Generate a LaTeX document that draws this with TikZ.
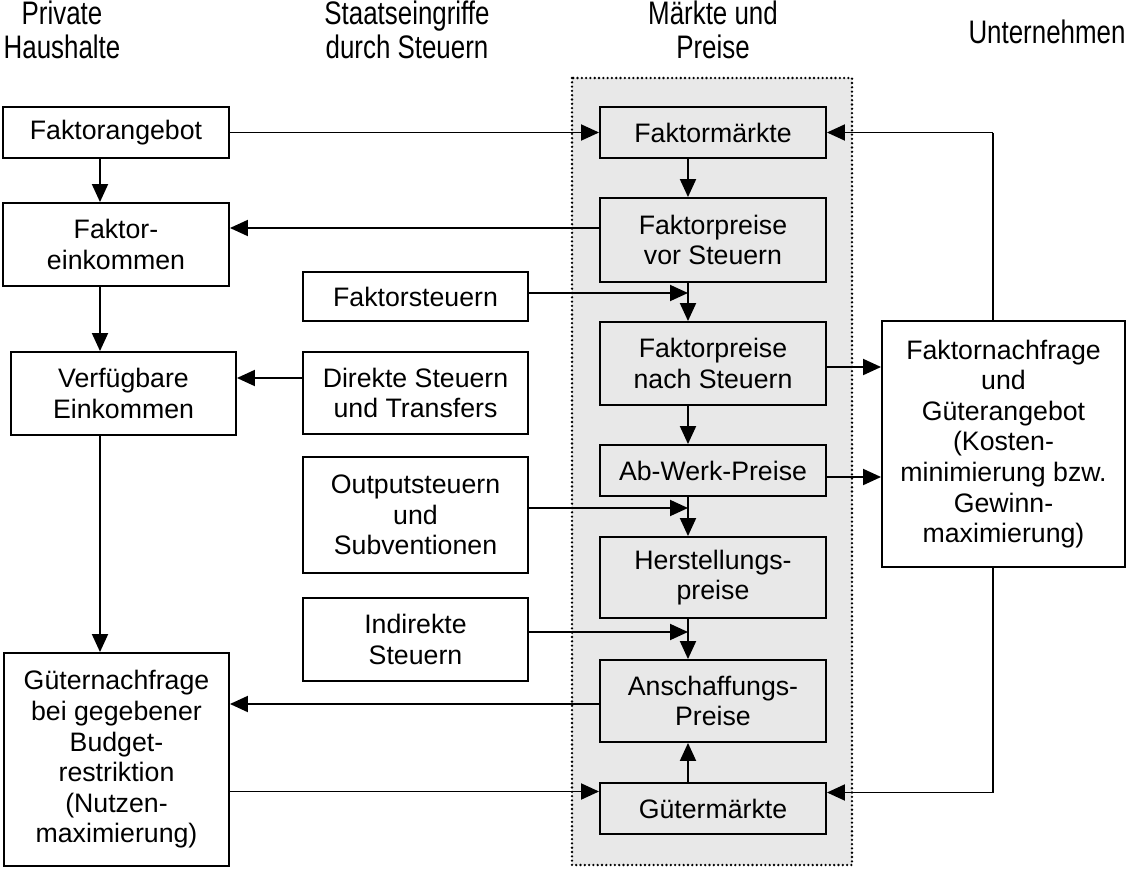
\documentclass[tikz,border=0pt]{standalone}
\usepackage{fontspec}
\setmainfont{Liberation Sans}
\usetikzlibrary{arrows.meta}
\definecolor{panel}{HTML}{E8E8E8}
\newcommand{\hdtext}[1]{\scalebox{0.97}[1.22]{\fontsize{26.7}{28}\selectfont\begin{tabular}{@{}c@{}}#1\end{tabular}}}
\tikzset{
  box/.style={draw=black, line width=1.9pt, fill=white, inner sep=0pt, align=center,
    font=\fontsize{26.7}{30.6}\selectfont},
  gbox/.style={box, fill=panel},
  arr/.style={line width=1.9pt, -{Triangle[length=18pt,width=16pt]}},
  ln/.style={line width=1.9pt},
  head/.style={align=center, inner sep=0pt}
}
\begin{document}
\begin{tikzpicture}[x=1pt,y=-1pt]
\useasboundingbox (0,0) rectangle (1128,870);
% dotted panel
\draw[fill=panel, line width=2.6pt, line cap=round, dash pattern=on 0pt off 4.3pt] (572,78) rectangle (852,865);
% headers
\node[head] (h1) at (62,35) {\hdtext{Private\\Haushalte}};
\node[head] (h2) at (407,35) {\hdtext{Staatseingriffe\\durch Steuern}};
\node[head] (h3) at (713,35) {\hdtext{Märkte und\\Preise}};
\node[head] (h4) at (1047,37) {\hdtext{Unternehmen}};
% helper x positions
\coordinate (lx) at (100,0);
\coordinate (mx) at (688,0);
\coordinate (rx) at (993,0);
% left column
\node[box, minimum width=226, minimum height=51] (fa) at (116,132.5) {Faktorangebot};
\node[box, minimum width=226, minimum height=83] (fe) at (116,244.5) {Faktor-\\einkommen};
\node[box, minimum width=225, minimum height=83] (ve) at (123.5,393.5) {Verfügbare\\Einkommen};
\node[box, minimum width=225, minimum height=213] (gn) at (116.5,759.5) {Güternachfrage\\bei gegebener\\Budget-\\restriktion\\(Nutzen-\\maximierung)};
% tax column
\node[box, minimum width=225, minimum height=49] (fs) at (415.5,296.5) {Faktorsteuern};
\node[box, minimum width=225, minimum height=82] (ds) at (415.5,393) {Direkte Steuern\\und Transfers};
\node[box, minimum width=225, minimum height=116] (os) at (415.5,515) {Outputsteuern\\und\\Subventionen};
\node[box, minimum width=225, minimum height=83] (is) at (415.5,639.5) {Indirekte\\Steuern};
% market column
\node[gbox, minimum width=226, minimum height=51] (fm) at (713,132.5) {Faktormärkte};
\node[gbox, minimum width=226, minimum height=84] (fv) at (713,240) {Faktorpreise\\vor Steuern};
\node[gbox, minimum width=226, minimum height=83] (fn) at (713,363.5) {Faktorpreise\\nach Steuern};
\node[gbox, minimum width=226, minimum height=51] (aw) at (713,470.5) {Ab-Werk-Preise};
\node[gbox, minimum width=226, minimum height=81] (hp) at (713,577.5) {Herstellungs-\\preise};
\node[gbox, minimum width=226, minimum height=82] (ap) at (713,701) {Anschaffungs-\\Preise};
\node[gbox, minimum width=226, minimum height=51] (gm) at (713,808.5) {Gütermärkte};
% firms
\node[box, minimum width=243, minimum height=246] (un) at (1003.5,444) {Faktornachfrage\\und\\Güterangebot\\(Kosten-\\minimierung bzw.\\Gewinn-\\maximierung)};
% connectors: left column
\draw[arr] (fa.east) -- (fm.west);
\draw[arr] (fa.south -| lx) -- (fe.north -| lx);
\draw[arr] (fe.south -| lx) -- (ve.north -| lx);
\draw[arr] (ve.south -| lx) -- (gn.north -| lx);
\coordinate (p1) at ([yshift=12pt]fv.west);
\draw[arr] (p1) -- (p1 -| fe.east);
\coordinate (p7) at ([yshift=15pt]ds.west);
\draw[arr] (p7) -- (p7 -| ve.east);
\coordinate (p2) at ([yshift=-3pt]ap.west);
\draw[arr] (p2) -- (p2 -| gn.east);
\coordinate (p3) at ([yshift=-32pt]gn.east);
\draw[arr] (p3) -- (p3 -| gm.west);
% connectors: market column
\draw[arr] (fm.south -| mx) -- (fv.north -| mx);
\draw[arr] (fv.south -| mx) -- (fn.north -| mx);
\coordinate (p8) at ([yshift=3.5pt]fs.east);
\draw[arr] (p8) -- (p8 -| mx);
\draw[arr] (fn.south -| mx) -- (aw.north -| mx);
\draw[arr] (aw.south -| mx) -- (hp.north -| mx);
\coordinate (p4) at ([yshift=7pt]os.east);
\draw[arr] (p4) -- (p4 -| mx);
\draw[arr] (hp.south -| mx) -- (ap.north -| mx);
\coordinate (p5) at ([yshift=7.5pt]is.east);
\draw[arr] (p5) -- (p5 -| mx);
\draw[arr] (gm.north -| mx) -- (ap.south -| mx);
% connectors: firms
\coordinate (p9) at ([yshift=-3.5pt]fn.east);
\draw[arr] (p9) -- (p9 -| un.west);
\coordinate (p10) at ([yshift=-6.5pt]aw.east);
\draw[arr] (p10) -- (p10 -| un.west);
\draw[ln] (un.north -| rx) -- (fm.east -| rx);
\draw[arr] (fm.east -| rx) -- (fm.east);
\coordinate (p6) at ([yshift=16pt]gm.east);
\draw[ln] (un.south -| rx) -- (p6 -| rx);
\draw[arr] (p6 -| rx) -- (p6);
\end{tikzpicture}
\end{document}
